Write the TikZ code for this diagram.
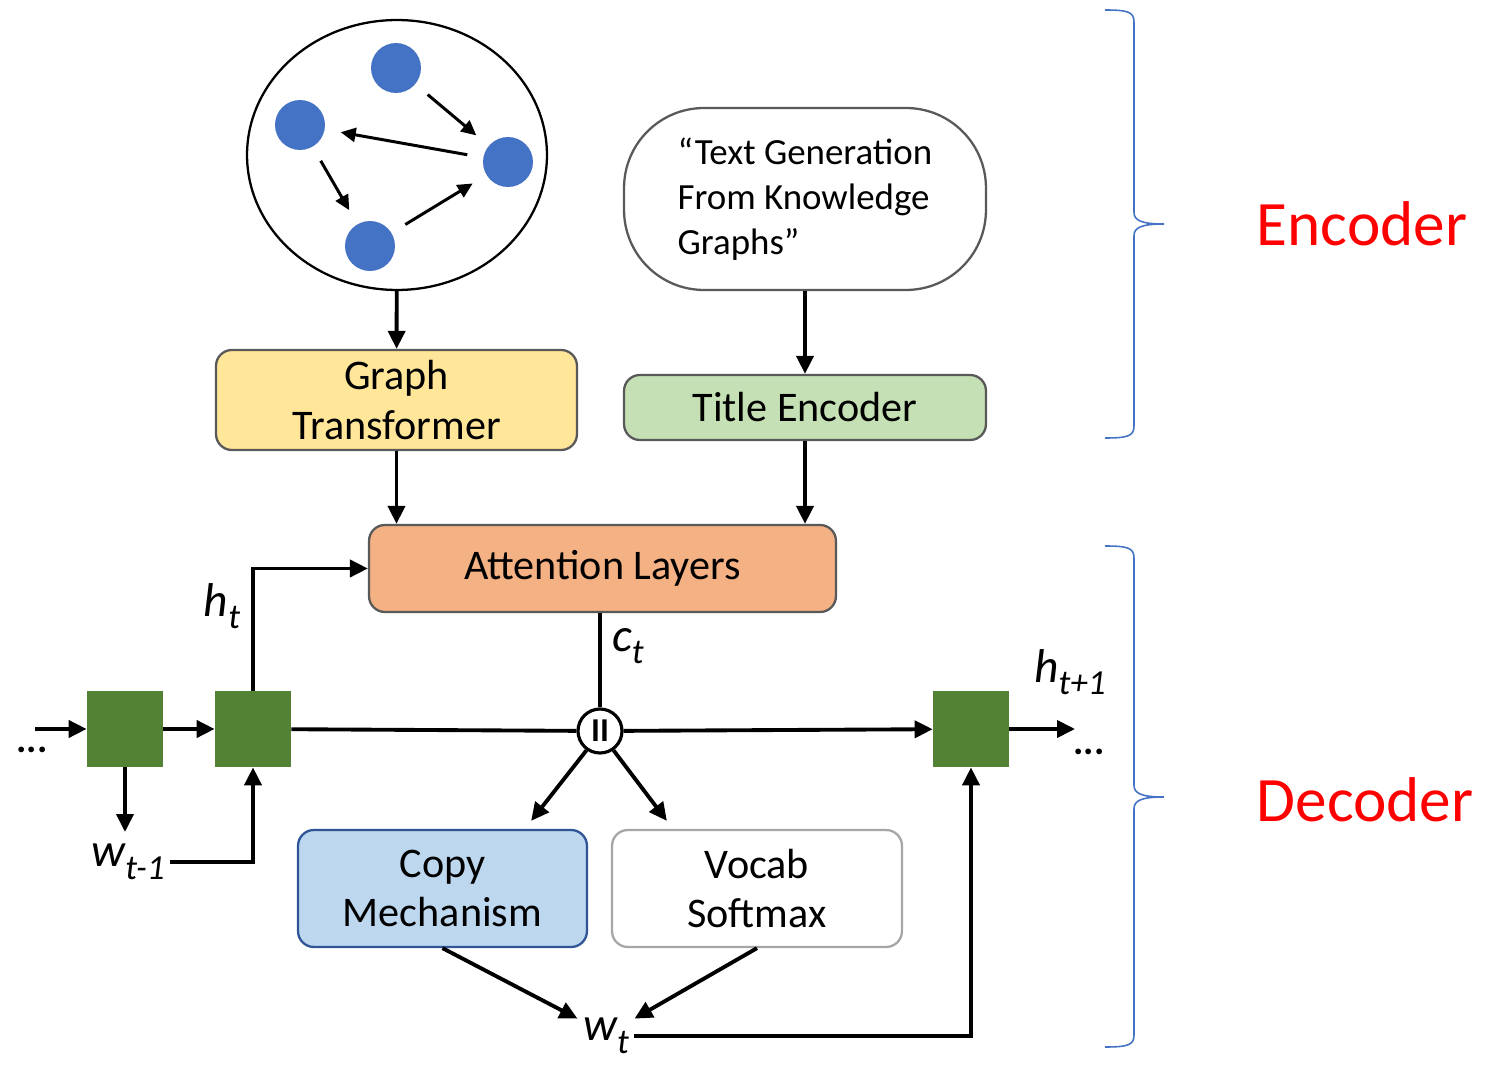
\documentclass[tikz,border=0pt]{standalone}
\usepackage{fontspec}
\setmainfont{Carlito}
\usetikzlibrary{shapes.geometric, arrows.meta, positioning, calc}
\definecolor{gtyellow}{HTML}{FFE699}
\definecolor{tegreen}{HTML}{C5E0B4}
\definecolor{attorange}{HTML}{F4B183}
\definecolor{copyblue}{HTML}{BDD7EE}
\definecolor{copyedge}{HTML}{2F5597}
\definecolor{cellgreen}{HTML}{548235}
\definecolor{dotblue}{HTML}{4472C4}
\definecolor{edgedark}{HTML}{595959}
\tikzset{
  blk/.style={draw=#1, rounded corners=9pt, line width=1.3pt, align=center,
              font=\fontsize{24}{28}\selectfont, inner sep=0pt},
  blk/.default=edgedark,
  flow/.style={-{Triangle[length=0.36cm, width=0.34cm]}, line width=2.2pt},
  link/.style={line width=2.2pt},
  gflow/.style={-{Triangle[length=0.3cm, width=0.28cm]}, line width=1.7pt,
                shorten >=0.32cm, shorten <=0.32cm},
  dot/.style={circle, fill=dotblue, minimum size=1cm, inner sep=0pt},
  cell/.style={fill=cellgreen, minimum size=1.52cm, inner sep=0pt},
  var/.style={font=\fontsize{27}{30}\selectfont\itshape, inner sep=3pt},
  brc/.style={draw=dotblue, line width=0.9pt},
  part/.style={font=\fontsize{36}{40}\selectfont, text=red},
  etc/.style={font=\fontsize{22}{24}\selectfont\bfseries, inner sep=0pt},
}
\newcommand{\vsub}[2]{#1\raisebox{-0.55ex}{\fontsize{20}{20}\selectfont\itshape #2}}

\begin{document}
\begin{tikzpicture}[x=0.02cm, y=-0.02cm]
  \useasboundingbox (0,0) rectangle (1485,1067);
  \node[ellipse, draw, line width=1.3pt, minimum width=6cm, minimum height=5.4cm, inner sep=0pt] (graph) at (397,155) {};
  \node[dot] (n1) at (396,68) {};
  \node[dot] (n2) at (300,125) {};
  \node[dot] (n3) at (508,162) {};
  \node[dot] (n4) at (370,246) {};
  \draw[gflow] (n1) -- (n3);
  \draw[gflow] (n3) -- (n2);
  \draw[gflow] (n2) -- (n4);
  \draw[gflow] (n4) -- (n3);
  \node[draw=edgedark, line width=1.3pt, rounded corners=1.6cm, minimum width=7.24cm, minimum height=3.64cm,
        align=left, font=\fontsize{21}{25.5}\selectfont] (title) at (805,199)
       {“Text Generation\\From Knowledge\\Graphs”};
  \node[blk, fill=gtyellow, minimum width=7.22cm, minimum height=2cm] (gt) at (396.5,400) {Graph\\Transformer};
  \node[blk, fill=tegreen, minimum width=7.24cm, minimum height=1.3cm] (te) at (805,407.5) {Title Encoder};
  \node[blk, fill=attorange, minimum width=9.34cm, minimum height=1.74cm] (att) at (602.5,568.5) {Attention Layers};
  \node[cell] (b1) at (125,729) {};
  \node[cell] (b2) at (253,729) {};
  \node[cell] (b3) at (971,729) {};
  \node[circle, draw, fill=white, line width=1.8pt, minimum size=0.88cm, inner sep=0pt,
        font=\fontsize{19}{20}\selectfont\bfseries] (cat) at (600,731) {II};
  \node[blk=copyedge, fill=copyblue, minimum width=5.78cm, minimum height=2.34cm] (copy) at (442.5,888.5) {Copy\\Mechanism};
  \node[blk=black!35, fill=white, minimum width=5.8cm, minimum height=2.34cm] (vocab) at (757,888.5) {Vocab\\Softmax};
  \node[var] (ht) at (222,606) {\vsub{h}{t}};
  \node[var] (ct) at (628,646) {\vsub{c}{t}};
  \node[var] (hnext) at (1070,672) {\vsub{h}{t+1}};
  \node[var] (wprev) at (128,862) {\vsub{w}{t-1}};
  \node[var] (wt) at (606,1036) {\vsub{w}{t}};
  \node[etc] (ldots) at (32,750) {...};
  \node[etc] (rdots) at (1089,752) {...};
  \coordinate (hin) at (35,729);
  \coordinate (hout) at (1075,729);
  \coordinate (wdown) at (125,832);
  \draw[flow] (graph) -- (gt);
  \draw[flow] (title) -- (te);
  \draw[flow] (gt) -- (gt.south |- att.north);
  \draw[flow] (te) -- (te.south |- att.north);
  \draw[flow] (b2.north) |- (att.west);
  \draw[link] (cat.north |- att.south) -- (cat.north);
  \draw[flow] (hin) -- (b1);
  \draw[flow] (b1) -- (b2);
  \draw[link] (b2) -- (cat);
  \draw[flow] (cat) -- (b3);
  \draw[flow] (b3) -- (hout);
  \draw[flow] (b1) -- (wdown);
  \draw[flow] (wprev.east) -| (b2.south);
  \draw[flow] (cat.235) -- ([xshift=-1.14cm, yshift=0.16cm]copy.north east);
  \draw[flow] (cat.305) -- ([xshift=1.12cm, yshift=0.16cm]vocab.north west);
  \draw[flow] (copy.south) -- ([yshift=-0.12cm]wt.north west);
  \draw[flow] (vocab.south) -- ([yshift=-0.12cm]wt.north east);
  \draw[flow] (wt.east) -| (b3.south);
  \draw[brc] (1105,10) .. controls (1128,10) and (1134,12) .. (1134,22) -- (1134,212)
    .. controls (1134,220) and (1140,224) .. (1164,224) .. controls (1140,224) and (1134,228) .. (1134,236)
    -- (1134,426) .. controls (1134,436) and (1128,438) .. (1105,438);
  \draw[brc] (1105,546) .. controls (1128,546) and (1134,548) .. (1134,558) -- (1134,785)
    .. controls (1134,793) and (1140,797) .. (1164,797) .. controls (1140,797) and (1134,801) .. (1134,809)
    -- (1134,1035) .. controls (1134,1045) and (1128,1047) .. (1105,1047);
  \node[part] (enc) at (1362,224) {Encoder};
  \node[part] (dec) at (1365,800) {Decoder};
\end{tikzpicture}
\end{document}
